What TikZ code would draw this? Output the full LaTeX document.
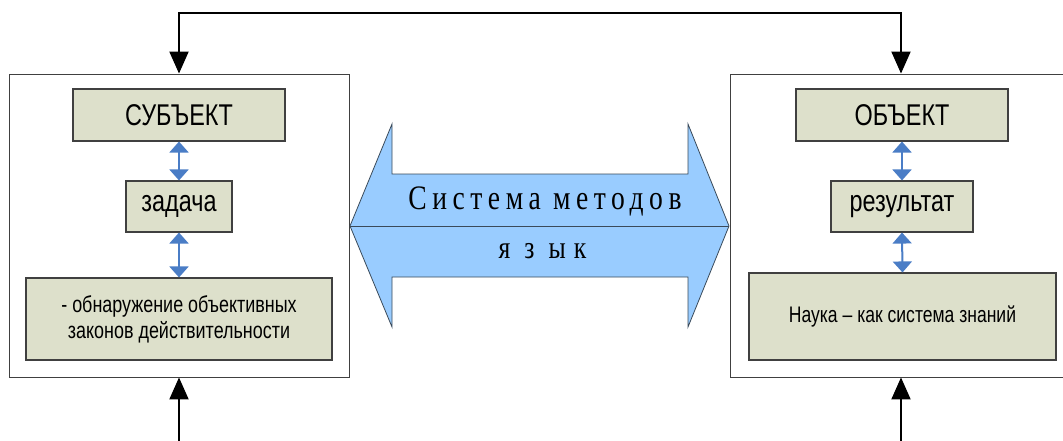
\documentclass[tikz,border=0pt]{standalone}
\usepackage{fontspec}
\setmainfont{Liberation Sans}
\newfontfamily\cond[FakeStretch=0.78]{Liberation Sans}
\newfontfamily\tms{Liberation Serif}
\newfontfamily\tmsc[FakeStretch=0.8]{Liberation Serif}
\usetikzlibrary{arrows.meta}
\definecolor{boxfill}{HTML}{DDE0CB}
\definecolor{boxline}{HTML}{404040}
\definecolor{linkblue}{HTML}{4A7DC6}
\definecolor{arrowfill}{HTML}{99CCFF}
\definecolor{arrowline}{HTML}{3A4A5A}
\begin{document}
\begin{tikzpicture}[x=1pt,y=-1pt,
  outer/.style={draw=boxline, line width=0.9pt, fill=white, minimum width=#1, minimum height=303pt, inner sep=0pt},
  inbox/.style 2 args={draw=boxline, line width=1.1pt, fill=boxfill, minimum width=#1, minimum height=#2, inner sep=0pt, align=center},
  bigfont/.style={font=\cond\fontsize{30}{36}\selectfont},
  smallfont/.style={font=\cond\fontsize{23}{26}\selectfont},
  link/.style={draw=linkblue, line width=2pt, {Triangle[width=19pt,length=11pt]}-{Triangle[width=19pt,length=11pt]}},
  blk/.style={draw=black, line width=2pt},
  tip/.style={-{Triangle[width=19pt,length=22pt]}}
]
\useasboundingbox (0,0) rectangle (1063,441);
\clip (0,0) rectangle (1063,441);

% outer boxes
\node[outer=340pt] (L) at (179,225.5) {};
\node[outer=342pt] (R) at (901,225.5) {};

% left inner boxes
\node[inbox={212pt}{52pt}, bigfont] (S) at (179,115) {СУБЪЕКТ};
\node[inbox={106pt}{51pt}, bigfont] (Z) at (179,206.5) {задача};
\node[inbox={306pt}{82pt}, smallfont] (LB) at (179,319) {- обнаружение объективных\\законов действительности};

% right inner boxes
\node[inbox={212pt}{52pt}, bigfont] (O) at (902,115) {ОБЪЕКТ};
\node[inbox={142pt}{51pt}, bigfont] (Res) at (902,206.5) {результат};
\node[inbox={307pt}{87pt}, font=\cond\fontsize{22.5}{26}\selectfont] (RB) at (902.5,316.5) {Наука – как система знаний};

% blue links
\draw[link] (S.south) -- (Z.north);
\draw[link] (Z.south) -- (LB.north);
\draw[link] (O.south) -- (Res.north);
\draw[link] (Res.south) -- (RB.north);

% black connectors
\coordinate (tl) at (179,13);
\coordinate (tr) at (901,13);
\coordinate (bl) at (179,441);
\coordinate (br) at (901,441);
\draw[blk, {Triangle[width=19pt,length=22pt]}-{Triangle[width=19pt,length=22pt]}] (L.north) -- (tl) -- (tr) -- (R.north);
\draw[blk, tip] (bl) -- (L.south);
\draw[blk, tip] (br) -- (R.south);

% central double arrow
\coordinate (mL) at (350,226);
\coordinate (mR) at (729,226);
\draw[fill=arrowfill, draw=arrowline, line width=0.8pt, line join=miter]
  (mL) -- (392,124) -- (392,174) -- (688,174) -- (688,124) -- (mR)
  -- (688,327) -- (688,277) -- (392,277) -- (392,327) -- cycle;
\draw[draw=arrowline, line width=1pt] (mL) -- (mR);
\node[inner sep=0pt, anchor=base] (t1) at (545,209) {\resizebox{273pt}{22.7pt}{\tms\addfontfeature{LetterSpace=20}Система методов}};
\node[inner sep=0pt, anchor=base] (t2) at (542.5,258) {\tmsc\fontsize{32}{32}\selectfont я\hspace{14pt}з\hspace{14pt}ы\hspace{8pt}к};
\end{tikzpicture}
\end{document}
